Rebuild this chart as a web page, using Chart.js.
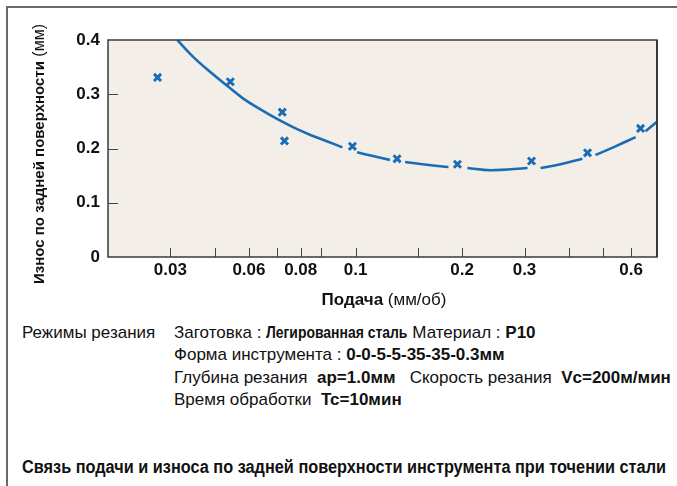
<!DOCTYPE html>
<html>
<head>
<meta charset="utf-8">
<script src="https://cdn.jsdelivr.net/npm/chart.js@4/dist/chart.umd.min.js"></script>
<style>
  body { margin: 0; width: 677px; height: 486px; background: #fff; position: relative; overflow: hidden; }
  #frame { position: absolute; left: 6px; top: 6px; width: 680px; height: 490px; border-top: 2px solid #6a6a6a; border-left: 2px solid #6a6a6a; }
  canvas { position: absolute; left: 0; top: 0; }
  .t { position: absolute; font-family: "Liberation Sans", Arial, sans-serif; font-size: 17px; color: #111; white-space: nowrap; line-height: 20px; }
  .b { font-weight: bold; }
  .n { font-weight: bold; display: inline-block; transform-origin: 0 50%; }
</style>
</head>
<body>
<div id="frame"></div>
<canvas id="myChart" width="677" height="320"></canvas>

<div class="t" style="left:22px; top:323px;">Режимы резания</div>
<div class="t" style="left:174px; top:323px;">Заготовка : <span class="n" data-s="0.82">Легированная сталь</span> Материал : <span class="b">P10</span></div>
<div class="t" style="left:174px; top:345px;">Форма инструмента : <span class="b">0-0-5-5-35-35-0.3мм</span></div>
<div class="t" style="left:174px; top:368px;">Глубина резания&nbsp; <span class="b">ap=1.0мм</span>&nbsp;&nbsp; Скорость резания&nbsp; <span class="b">Vc=200м/мин</span></div>
<div class="t" style="left:174px; top:390px;">Время обработки&nbsp; <span class="b">Tc=10мин</span></div>
<div class="t" style="left:22px; top:457px; font-size:18px;"><span class="n" data-w="644">Связь подачи и износа по задней поверхности инструмента при точении стали</span></div>

<script>
// measured points (feed mm/rev, flank wear mm)
var feed = [0.0276, 0.0443, 0.0621, 0.063, 0.098, 0.131, 0.194, 0.314, 0.452, 0.638];
var wear = [0.331, 0.323, 0.267, 0.214, 0.204, 0.181, 0.171, 0.177, 0.192, 0.237];

// fitted curve, null = break in the line next to a marker
var curveFeed = [0.0314, 0.0348, 0.0389, 0.0435, 0.0482, 0.0539, 0.0602, 0.0668, 0.0746, 0.0833, 0.0918, 0.098,
  0.101, 0.112, 0.125, 0.131, 0.138, 0.159, 0.183, 0.194, 0.207, 0.241, 0.306, 0.314,
  0.333, 0.379, 0.437, 0.452, 0.476, 0.542, 0.618, 0.638, 0.659, 0.7125];
var curveWear = [0.4, 0.369, 0.341, 0.315, 0.292, 0.272, 0.254, 0.239, 0.225, 0.213, 0.202, null,
  0.193, 0.186, 0.179, null, 0.175, 0.170, 0.166, null, 0.164, 0.160, 0.164, null,
  0.164, 0.171, 0.181, null, 0.188, 0.204, 0.221, null, 0.232, 0.250];

var xTickValues = [0.03, 0.04, 0.05, 0.06, 0.07, 0.08, 0.1, 0.15, 0.2, 0.3, 0.4, 0.5, 0.6];
var xTickLabels = ["0.03", "", "0.06", "", "0.08", "", "0.1", "", "0.2", "0.3", "", "", "0.6"];
var yTickValues = [0, 0.1, 0.2, 0.3, 0.4];

var blue = "#1a6db5";
var plotBg = "#f3efe8";
var font = "'Liberation Sans', Arial, sans-serif";

// squeeze the narrow bold bits (no condensed font installed)
document.querySelectorAll(".n").forEach(function (el) {
  var w = el.getBoundingClientRect().width;
  var s = el.dataset.w ? el.dataset.w / w : parseFloat(el.dataset.s);
  el.style.transform = "scaleX(" + s + ")";
  el.style.marginRight = -(1 - s) * w + "px";
});

var points = feed.map(function (f, i) { return { x: f, y: wear[i] }; });
var curve = curveFeed.map(function (f, i) { return { x: f, y: curveWear[i] }; });

var plotDecor = {
  id: "plotDecor",
  beforeDraw: function (chart) {
    var a = chart.chartArea, ctx = chart.ctx;
    ctx.save();
    ctx.fillStyle = plotBg;
    ctx.fillRect(a.left, a.top, a.right - a.left, a.bottom - a.top);
    ctx.restore();
  },
  afterDraw: function (chart) {
    var a = chart.chartArea, ctx = chart.ctx;
    var xs = chart.scales.x, ys = chart.scales.y;
    ctx.save();
    // inward tick marks
    ctx.strokeStyle = "#444";
    ctx.lineWidth = 1;
    ctx.beginPath();
    xTickValues.forEach(function (v) {
      var px = Math.round(xs.getPixelForValue(v)) + 0.5;
      ctx.moveTo(px, a.bottom);
      ctx.lineTo(px, a.bottom - 9);
    });
    yTickValues.slice(1, -1).forEach(function (v) {
      var py = Math.round(ys.getPixelForValue(v)) + 0.5;
      ctx.moveTo(a.left, py);
      ctx.lineTo(a.left + 10, py);
    });
    ctx.stroke();
    // frame
    ctx.strokeStyle = "#3a3a3a";
    ctx.lineWidth = 1.5;
    ctx.strokeRect(a.left, a.top, a.right - a.left, a.bottom - a.top);
    ctx.lineWidth = 2;
    ctx.beginPath();
    ctx.moveTo(a.right, a.top);
    ctx.lineTo(a.right, a.bottom);
    ctx.stroke();

    // axis titles
    ctx.fillStyle = "#111";
    ctx.textBaseline = "middle";
    var t1 = "Подача", t2 = " (мм/об)";
    ctx.font = "bold 17px " + font;
    var w1 = ctx.measureText(t1).width;
    ctx.font = "17px " + font;
    var w2 = ctx.measureText(t2).width;
    var x0 = 384 - (w1 + w2) / 2;
    ctx.font = "bold 17px " + font;
    ctx.fillText(t1, x0, 300);
    ctx.font = "17px " + font;
    ctx.fillText(t2, x0 + w1, 300);

    ctx.translate(40, 284);
    ctx.rotate(-Math.PI / 2);
    ctx.textAlign = "left";
    ctx.font = "bold 15px " + font;
    var s1 = "Износ по задней поверхности";
    ctx.fillText(s1, 0, 0);
    var ws = ctx.measureText(s1).width;
    ctx.font = "16px " + font;
    ctx.fillText(" (мм)", ws, 0);
    ctx.restore();
  }
};

new Chart("myChart", {
  type: "line",
  data: {
    datasets: [
      {
        type: "scatter",
        data: points,
        pointStyle: "crossRot",
        pointRadius: 5,
        pointBorderWidth: 3,
        borderColor: blue,
        backgroundColor: blue,
        showLine: false,
      },
      {
        data: curve,
        borderColor: blue,
        borderWidth: 2.6,
        pointRadius: 0,
        fill: false,
        spanGaps: false,
        tension: 0.4,
      },
    ],
  },
  options: {
    responsive: false,
    animation: false,
    layout: { padding: { left: 0, right: 20, top: 40, bottom: 0 } },
    plugins: { legend: { display: false }, tooltip: { enabled: false } },
    scales: {
      x: {
        type: "logarithmic",
        min: 0.02,
        max: 0.71,
        afterBuildTicks: function (scale) {
          scale.ticks = xTickValues.map(function (v) { return { value: v }; });
        },
        afterFit: function (scale) { scale.height = 63; },
        grid: { display: false, drawTicks: false },
        border: { display: false },
        ticks: {
          autoSkip: false,
          maxRotation: 0,
          padding: 3,
          color: "#111",
          font: { family: font, size: 17, weight: "bold" },
          callback: function (v, i) { return xTickLabels[i]; },
        },
      },
      y: {
        min: 0,
        max: 0.4,
        afterBuildTicks: function (scale) {
          scale.ticks = yTickValues.map(function (v) { return { value: v }; });
        },
        afterFit: function (scale) { scale.width = 108; },
        grid: { display: false, drawTicks: false },
        border: { display: false },
        ticks: {
          padding: 8,
          color: "#111",
          font: { family: font, size: 17, weight: "bold" },
          callback: function (v) { return v === 0 ? "0" : v.toFixed(1); },
        },
      },
    },
  },
  plugins: [plotDecor],
});
</script>
</body>
</html>
